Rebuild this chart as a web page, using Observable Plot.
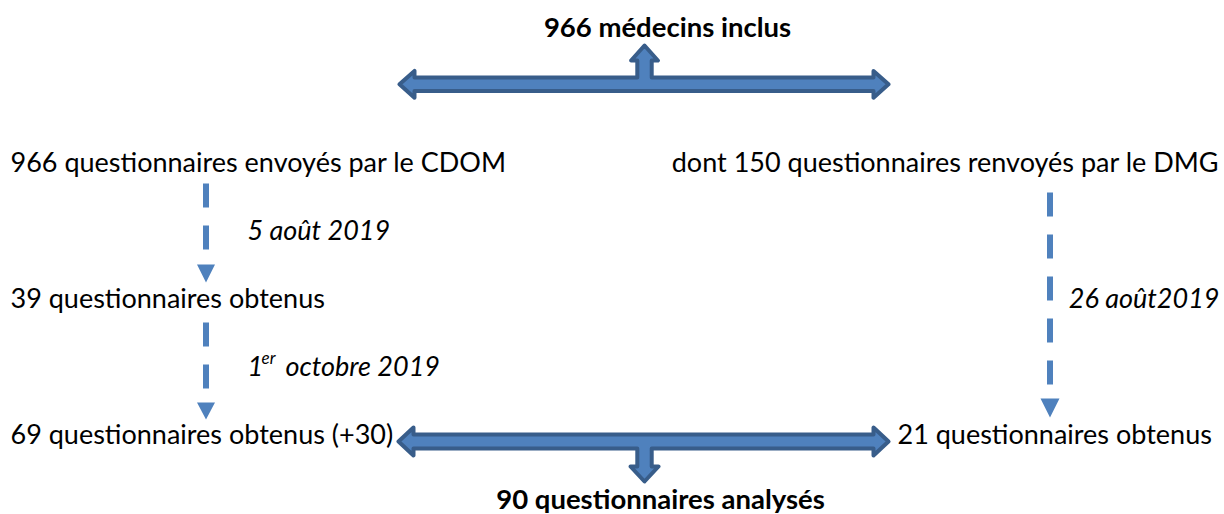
<!DOCTYPE html>
<html>
<head>
<meta charset="utf-8">
<script src="https://cdn.jsdelivr.net/npm/d3@7"></script>
<script src="https://cdn.jsdelivr.net/npm/@observablehq/plot@0.6"></script>
<style>
  html, body { margin: 0; padding: 0; background: #ffffff; }
  #chart svg { display: block; font-family: Lato, "Open Sans", sans-serif; }
</style>
</head>
<body>
<div id="chart"></div>
<script>
// ---- Data (texts of the flow chart) ----
const titleTop = ["966 médecins inclus"];
const titleBottom = ["90 questionnaires analysés"];
const leftSteps = ["966 questionnaires envoyés par le CDOM", "39 questionnaires obtenus", "69 questionnaires obtenus (+30)"];
const rightSteps = ["dont 150 questionnaires renvoyés par le DMG", "21 questionnaires obtenus"];
const leftDates = ["5 août 2019", "octobre 2019"];
const leftDateOrdinal = ["1", "er"];
const rightDates = ["26 août2019"];

// ---- Layout (pixel space of the diagram) ----
const W = 1224, H = 514;
const FS = 27;
const FSB = 27.5;
const BLUE = "#4F81BD", DARK = "#385D8A";

const leftRowsY = [171, 307, 443];
const rightRowsY = [171, 443];
const leftX = 10, rightEndX = 1218, right2X = 897;
const leftDatesPos = [{x: 247, y: 239}, {x: 285, y: 375}];
const ordinalPos = [{x: 247, y: 375, fs: FS}, {x: 261, y: 363, fs: 17}];
const rightDatesPos = [{x: 1219, y: 307}];

// Block arrows: horizontal double arrow + perpendicular stem arrow
function tArrow(id, xl, xr, yc, half, headHalf, headLen, stemX, stemHalf, stemEnd, dir) {
  // dir = -1 : stem goes up ; +1 : stem goes down
  const ys = yc + dir * half;
  const yo = yc - dir * half;
  const hb = stemEnd - dir * headLen;
  const pts = [
    [xl, yc],
    [xl + headLen, yc + dir * headHalf],
    [xl + headLen, ys],
    [stemX - stemHalf, ys],
    [stemX - stemHalf, hb],
    [stemX - headHalf, hb],
    [stemX, stemEnd],
    [stemX + headHalf, hb],
    [stemX + stemHalf, hb],
    [stemX + stemHalf, ys],
    [xr - headLen, ys],
    [xr - headLen, yc + dir * headHalf],
    [xr, yc],
    [xr - headLen, yc - dir * headHalf],
    [xr - headLen, yo],
    [xl + headLen, yo],
    [xl + headLen, yc - dir * headHalf]
  ];
  return pts.map(([x, y]) => ({id, x, y}));
}
const blockArrows = [
  ...tArrow("top", 399, 888, 83.8, 6.8, 13.4, 15, 644, 7.2, 45, -1),
  ...tArrow("bottom", 398, 888, 441, 7, 14, 15, 644, 7.2, 481, 1)
];

// Dashed connectors
const dashes = [
  {x: 205.5, y1: 183, y2: 249},
  {x: 205.5, y1: 322, y2: 388},
  {x: 1049.5, y1: 192, y2: 384}
];
function tri(id, cx, top, bottom, hw) {
  return [{id, x: cx - hw, y: top}, {id, x: cx + hw, y: top}, {id, x: cx, y: bottom}];
}
const heads = [
  ...tri("a", 205.5, 264, 282, 9),
  ...tri("b", 205.5, 402, 419, 9),
  ...tri("c", 1049.5, 398, 417, 9.5)
];

const chart = Plot.plot({
  width: W,
  height: H,
  margin: 0,
  x: {domain: [0, W], range: [0, W], axis: null},
  y: {domain: [0, H], range: [0, H], axis: null},
  style: {background: "#ffffff", fontFamily: "Lato, 'Open Sans', sans-serif", overflow: "visible"},
  marks: [
    Plot.link(dashes, {x1: "x", x2: "x", y1: "y1", y2: "y2", stroke: BLUE, strokeWidth: 6, strokeDasharray: "24 18", strokeLinecap: "butt"}),
    Plot.line(heads, {x: "x", y: "y", z: "id", fill: BLUE, stroke: "none", curve: "linear-closed"}),
    Plot.line(blockArrows, {x: "x", y: "y", z: "id", fill: BLUE, stroke: DARK, strokeWidth: 4, strokeLinejoin: "round", curve: "linear-closed"}),
    // titles
    Plot.text(titleTop, {x: 667, y: 36, text: d => d, textAnchor: "middle", lineAnchor: "bottom", fontSize: FSB, fontWeight: "bold", fill: "#000"}),
    Plot.text(titleBottom, {x: 660, y: 508, text: d => d, textAnchor: "middle", lineAnchor: "bottom", fontSize: FSB, fontWeight: "bold", fill: "#000"}),
    // left column
    Plot.text(leftSteps, {x: leftX, y: (d, i) => leftRowsY[i], text: d => d, textAnchor: "start", lineAnchor: "bottom", fontSize: FS, fill: "#000"}),
    // right column
    Plot.text(rightSteps.slice(0, 1), {x: rightEndX, y: rightRowsY[0], text: d => d, textAnchor: "end", lineAnchor: "bottom", fontSize: FS, fill: "#000"}),
    Plot.text(rightSteps.slice(1), {x: right2X, y: rightRowsY[1], text: d => d, textAnchor: "start", lineAnchor: "bottom", fontSize: FS, fill: "#000"}),
    // dates
    Plot.text(leftDates, {x: (d, i) => leftDatesPos[i].x, y: (d, i) => leftDatesPos[i].y, text: d => d, textAnchor: "start", lineAnchor: "bottom", fontSize: FS, fontStyle: "italic", fill: "#000"}),
    Plot.text(leftDateOrdinal, {x: (d, i) => ordinalPos[i].x, y: (d, i) => ordinalPos[i].y, text: d => d, fontSize: (d, i) => ordinalPos[i].fs, textAnchor: "start", lineAnchor: "bottom", fontStyle: "italic", fill: "#000"}),
    Plot.text(rightDates, {x: (d, i) => rightDatesPos[i].x, y: (d, i) => rightDatesPos[i].y, text: d => d, textAnchor: "end", lineAnchor: "bottom", fontSize: FS, fontStyle: "italic", fill: "#000"})
  ]
});
document.getElementById("chart").appendChild(chart);
</script>
</body>
</html>
